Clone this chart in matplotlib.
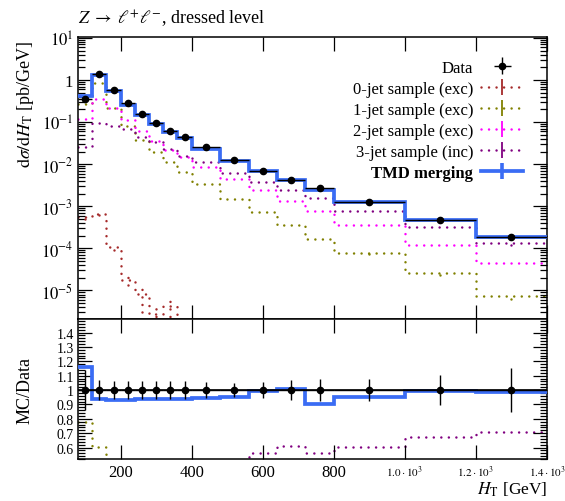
import numpy as np
import matplotlib
matplotlib.use("Agg")
import matplotlib.pyplot as plt
from matplotlib.lines import Line2D
from matplotlib.ticker import FixedLocator, MultipleLocator, LogLocator, NullFormatter, FuncFormatter, FixedFormatter

plt.rcParams['font.family'] = ['Liberation Serif', 'DejaVu Serif']
plt.rcParams['mathtext.fontset'] = 'stix'

# ---------------- data ----------------
edges = [80, 120, 160, 200, 240, 280, 320, 360, 400, 480, 560, 640, 720, 800, 1000, 1200, 1400]
data = [0.355, 1.39, 0.59, 0.28, 0.156, 0.095, 0.0625, 0.0436, 0.025, 0.0128,
        0.0068, 0.0041, 0.00277, 0.00129, 0.000473, 0.00019]
data_relerr = [0.139, 0.069, 0.062, 0.062, 0.062, 0.062, 0.062, 0.062, 0.058, 0.052,
               0.058, 0.069, 0.075, 0.075, 0.104, 0.15]
tmd = [0.411, 1.307, 0.550, 0.261, 0.146, 0.0888, 0.0586, 0.0408, 0.02355, 0.01222,
       0.00677, 0.00413, 0.0025, 0.00123, 0.00047, 0.000187]
jet0 = [5.5e-4, 6.5e-4, 1.05e-4, 1.77e-5, 8.3e-6, 2.7e-6, 4.3e-6, 1e-12,
        1e-12, 1e-12, 1e-12, 1e-12, 1e-12, 1e-12, 1e-12, 1e-12]
jet0_err = [0.4e-4, 0.4e-4, 1.1e-5, 4.5e-6, 5.2e-6, 2.0e-6, 2.7e-6, 0,
            0, 0, 0, 0, 0, 0, 0, 0]
jet1 = [0.275, 0.835, 0.216, 0.08, 0.037, 0.0198, 0.011, 0.0066, 0.0034, 0.0015,
        0.00074, 0.00036, 0.000167, 7.7e-5, 2.6e-5, 7.3e-6]
jet1_err = [0, 0, 0, 0, 0, 0, 0, 0, 0, 0, 0, 0, 0, 2e-6, 3e-6, 1e-6]
jet2 = [0.118, 0.355, 0.213, 0.112, 0.0605, 0.035, 0.022, 0.015, 0.0085, 0.0044,
        0.0024, 0.0013, 0.00076, 0.00036, 0.000122, 4.4e-5]
jet3 = [0.025, 0.095, 0.082, 0.067, 0.045, 0.033, 0.023, 0.016, 0.011, 0.0062,
        0.0038, 0.0025, 0.00155, 0.00078, 0.00032, 0.000135]
jet3_err = [0, 0, 0, 0, 0, 0, 0, 0, 0, 0, 0, 0, 0, 0, 0, 1.2e-5]

labels = ["Data", "0-jet sample (exc)", "1-jet sample (exc)", "2-jet sample (exc)",
          "3-jet sample (inc)", "TMD merging"]
xtick_vals = [200, 400, 600, 800, 1000, 1200, 1400]
xtick_labels = ["200", "400", "600", "800", r"$1.0\cdot10^3$", r"$1.2\cdot10^3$", r"$1.4\cdot10^3$"]
ratio_ticks = [0.6, 0.7, 0.8, 0.9, 1.0, 1.1, 1.2, 1.3, 1.4]

# ---------------- styles ----------------
c0, c1, c2, c3 = "#a52a2a", "#808000", "#ff00ff", "#800080"
cblue = "#3a6cf4"
dot = (0, (0.01, 3.0))
dlw = 1.8

edges_a = np.array(edges, float)
centers = 0.5 * (edges_a[1:] + edges_a[:-1])
halfw = 0.5 * (edges_a[1:] - edges_a[:-1])
data_a = np.array(data)
derr = data_a * np.array(data_relerr)

W, H = 565, 502
fig = plt.figure(figsize=(W / 100, H / 100), dpi=100)
L, R = 78 / W, 547 / W
ax = fig.add_axes([L, 1 - 320 / H, R - L, (320 - 38) / H])
axr = fig.add_axes([L, 1 - 460 / H, R - L, (460 - 320) / H], sharex=ax)

def draw_sample(a, vals, col, err=None, lw=dlw):
    st = a.stairs(vals, edges, baseline=None, color=col, lw=lw, linestyle=dot)
    st.set_capstyle('round')
    if err is not None:
        eb = a.errorbar(centers, vals, yerr=err, fmt='none', ecolor=col, elinewidth=lw)
        for lc in eb[2]:
            lc.set_linestyle(dot)
            lc.set_capstyle('round')

draw_sample(ax, jet0, c0, jet0_err)
draw_sample(ax, jet1, c1, jet1_err)
draw_sample(ax, jet2, c2)
draw_sample(ax, jet3, c3, jet3_err)
ax.stairs(tmd, edges, baseline=None, color=cblue, lw=2.7, zorder=5)
hdata = ax.errorbar(centers, data, yerr=derr, xerr=halfw, fmt='o', color='k', ms=4.5,
                    lw=1.0, capsize=0, zorder=10)

ax.set_yscale('log')
ax.set_ylim(2.1e-6, 10.5)
ax.set_xlim(80, 1400)

def logfmt(v, pos):
    e = int(round(np.log10(v)))
    if e == 0:
        return "1"
    return r"$10^{%d}$" % e
ax.yaxis.set_major_locator(LogLocator(base=10, numticks=20))
ax.yaxis.set_major_formatter(FuncFormatter(logfmt))
ax.yaxis.set_minor_locator(LogLocator(base=10, subs=np.arange(2, 10), numticks=100))
ax.yaxis.set_minor_formatter(NullFormatter())
ax.tick_params(axis='x', labelbottom=False)

# legend
hs = [hdata]
for col in (c0, c1, c2, c3):
    hs.append(Line2D([0], [0], color=col, lw=dlw, linestyle=dot, dash_capstyle='round',
                     marker='|', ms=11, mew=1.3))
hs.append(Line2D([0], [0], color=cblue, lw=2.7, marker='|', ms=12, mew=2.6))
leg = ax.legend(hs, labels, loc='upper right', bbox_to_anchor=(0.949, 0.92), frameon=False,
                markerfirst=False, handlelength=2.5, labelspacing=0.3, fontsize=12,
                borderpad=0, borderaxespad=0, handletextpad=0.5)
leg.get_texts()[-1].set_fontweight('bold')

# ratio panel
for vals, col in ((jet0, c0), (jet1, c1), (jet2, c2), (jet3, c3)):
    draw_sample(axr, np.array(vals) / data_a, col)
axr.stairs(np.array(tmd) / data_a, edges, baseline=None, color=cblue, lw=2.7, zorder=5)
axr.axhline(1.0, color='k', lw=1.2, zorder=9)
axr.errorbar(centers, np.ones(len(data)), yerr=np.array(data_relerr), xerr=halfw, fmt='o',
             color='k', ms=4.5, lw=1.0, capsize=0, zorder=10)
axr.set_ylim(0.52, 1.494)
axr.yaxis.set_major_locator(FixedLocator(ratio_ticks))
axr.yaxis.set_major_formatter(FuncFormatter(lambda v, p: "%g" % v))
axr.yaxis.set_minor_locator(MultipleLocator(0.02))

axr.xaxis.set_major_locator(FixedLocator(xtick_vals))
axr.xaxis.set_major_formatter(FixedFormatter(xtick_labels))
axr.set_xlim(80, 1400)

for a in (ax, axr):
    a.tick_params(which='both', direction='in', top=True, right=True, labelsize=12, width=0.9)
    a.tick_params(which='major', length=10)
    a.tick_params(which='minor', length=5)
    a.tick_params(axis='x', which='minor', length=0)
    for s in a.spines.values():
        s.set_linewidth(1.1)
axr.tick_params(axis='y', labelsize=10, pad=3)
for t in axr.get_xticklabels()[4:]:
    t.set_fontsize(8)

axr.set_xlabel(r"$H_\mathrm{T}$ [GeV]", fontsize=12.5, loc='right', labelpad=0)
fig.text(25 / W, 1 - 40 / H, r"$\mathrm{d}\sigma/\mathrm{d}H_\mathrm{T}$ [pb/GeV]", rotation=90,
         ha='center', va='top', fontsize=13)
fig.text(25 / W, 1 - 391 / H, "MC/Data", rotation=90, ha='center', va='center', fontsize=13)
fig.text(L, 1 - 19 / H, r"$Z\;\rightarrow\;\ell^{+}\ell^{-}$, dressed level", ha='left',
         va='center', fontsize=13)

fig.savefig("out.png", dpi=100)
